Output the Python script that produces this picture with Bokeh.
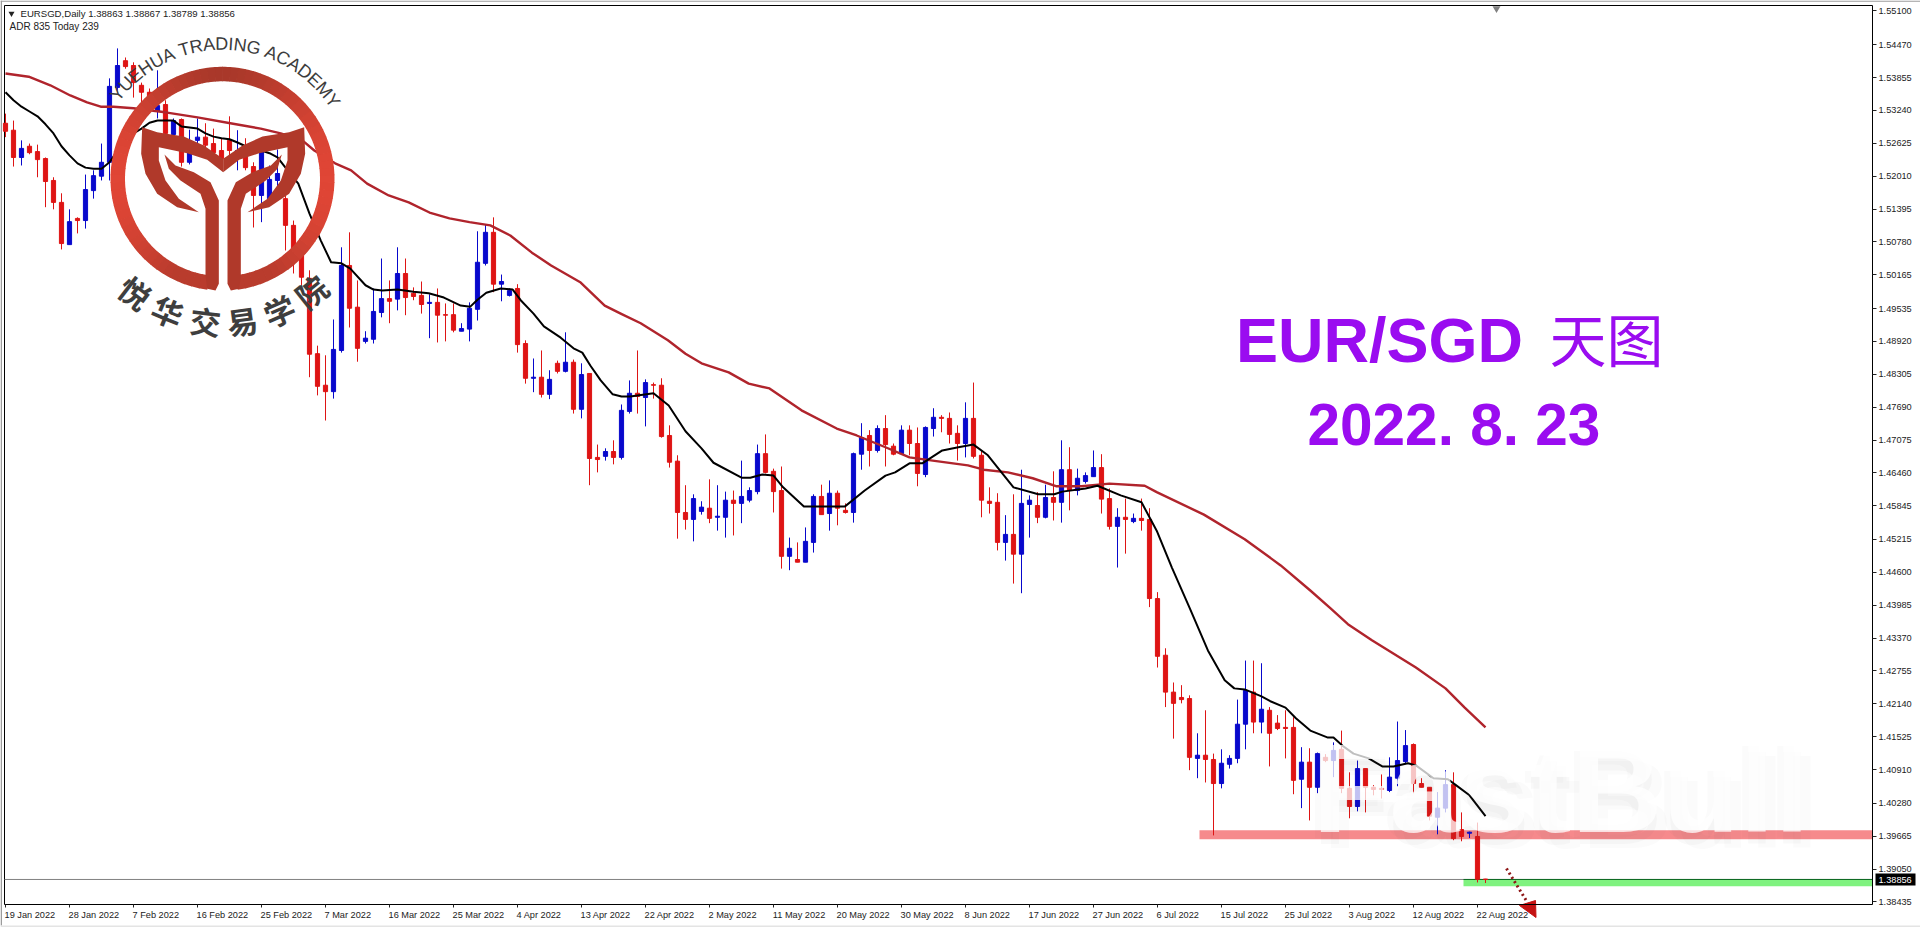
import numpy as np
from bokeh.plotting import figure
from bokeh.embed import file_html
from bokeh.resources import INLINE
from bokeh.core.properties import value
from bokeh.models import Range1d, FixedTicker

# ---------------- data ----------------
highs = [1.5318,1.5305,1.5268,1.5262,1.5260,1.5236,1.5199,1.5169,1.5139,1.5124,1.5204,1.5212,1.5262,1.5384,1.5440,1.5423,1.5414,1.5376,1.5365,1.5399,
1.5343,1.5309,1.5309,1.5288,1.5309,1.5300,1.5290,1.5272,1.5313,1.5287,1.5272,1.5227,1.5253,1.5221,1.5251,1.5184,1.5118,1.5071,1.5025,1.4884,
1.4866,1.4933,1.5068,1.5096,1.5006,1.4911,1.4991,1.5047,1.5006,1.5068,1.5047,1.4993,1.5004,1.4980,1.4991,1.4963,1.4963,1.4926,1.4965,1.5098,
1.5111,1.5124,1.5017,1.4991,1.4999,1.4894,1.4860,1.4875,1.4838,1.4856,1.4909,1.4858,1.4851,1.4832,1.4699,1.4692,1.4707,1.4774,1.4819,1.4875,
1.4821,1.4815,1.4823,1.4735,1.4679,1.4623,1.4606,1.4593,1.4634,1.4623,1.4611,1.4613,1.4669,1.4619,1.4699,1.4718,1.4654,1.4658,1.4525,1.4516,
1.4544,1.4606,1.4624,1.4632,1.4613,1.4589,1.4684,1.4739,1.4726,1.4735,1.4754,1.4701,1.4735,1.4735,1.4731,1.4733,1.4767,1.4754,1.4759,1.4735,
1.4778,1.4815,1.4688,1.4619,1.4608,1.4567,1.4606,1.4652,1.4604,1.4610,1.4624,1.4649,1.4707,1.4694,1.4654,1.4647,1.4688,1.4681,1.4617,1.4580,
1.4598,1.4570,1.4598,1.4580,1.4423,1.4318,1.4254,1.4249,1.4230,1.4159,1.4202,1.4121,1.4129,1.4118,1.4222,1.4295,1.4295,1.4290,1.4208,1.4193,
1.4202,1.4189,1.4133,1.4131,1.4123,1.4120,1.4142,1.4164,1.4086,1.4108,1.4093,1.4062,1.4082,1.4114,1.4181,1.4165,1.4140,1.4075,1.4058,1.4049,
1.4090,1.4086,1.4011,1.3975,1.3992,1.38867]
body_high = [1.5300,1.5287,1.5253,1.5257,1.5247,1.5234,1.5193,1.5152,1.5116,1.5122,1.5176,1.5202,1.5227,1.5369,1.5408,1.5417,1.5408,1.5371,1.5358,1.5333,
1.5335,1.5305,1.5307,1.5247,1.5274,1.5274,1.5262,1.5249,1.5268,1.5249,1.5240,1.5219,1.5249,1.5195,1.5206,1.5159,1.5109,1.5058,1.5010,1.4869,
1.4810,1.4877,1.5034,1.5034,1.4956,1.4898,1.4948,1.4972,1.4972,1.5019,1.5019,1.4982,1.4978,1.4965,1.4965,1.4942,1.4942,1.4916,1.4954,1.5040,
1.5096,1.5096,1.5004,1.4987,1.4991,1.4888,1.4825,1.4825,1.4821,1.4851,1.4853,1.4853,1.4830,1.4832,1.4675,1.4686,1.4686,1.4763,1.4795,1.4795,
1.4815,1.4811,1.4810,1.4716,1.4668,1.4572,1.4598,1.4582,1.4580,1.4565,1.4595,1.4595,1.4602,1.4613,1.4682,1.4682,1.4649,1.4613,1.4505,1.4484,
1.4518,1.4602,1.4602,1.4608,1.4608,1.4576,1.4682,1.4712,1.4716,1.4729,1.4729,1.4696,1.4726,1.4726,1.4701,1.4731,1.4750,1.4750,1.4748,1.4720,
1.4748,1.4748,1.4679,1.4593,1.4591,1.4531,1.4531,1.4589,1.4595,1.4585,1.4600,1.4600,1.4652,1.4652,1.4636,1.4641,1.4656,1.4656,1.4598,1.4563,
1.4563,1.4561,1.4561,1.4559,1.4411,1.4305,1.4236,1.4226,1.4224,1.4118,1.4118,1.4110,1.4103,1.4112,1.4176,1.4239,1.4236,1.4204,1.4202,1.4178,
1.4170,1.4170,1.4105,1.4105,1.4121,1.4114,1.4127,1.4129,1.4056,1.4093,1.4093,1.4058,1.4056,1.4077,1.4108,1.4136,1.4138,1.4065,1.4058,1.4019,
1.4063,1.4063,1.3979,1.3974,1.3966,1.38863]
body_low = [1.5285,1.5236,1.5236,1.5245,1.5232,1.5191,1.5152,1.5075,1.5073,1.5118,1.5118,1.5174,1.5201,1.5227,1.5367,1.5406,1.5376,1.5358,1.5337,1.5322,
1.5281,1.5279,1.5227,1.5227,1.5268,1.5259,1.5245,1.5234,1.5249,1.5234,1.5217,1.5165,1.5165,1.5159,1.5193,1.5109,1.5062,1.5012,1.4868,1.4808,
1.4798,1.4798,1.4875,1.4954,1.4879,1.4892,1.4896,1.4946,1.4967,1.4971,1.4974,1.4976,1.4961,1.4963,1.4941,1.4941,1.4913,1.4911,1.4915,1.4952,
1.5038,1.4999,1.4999,1.4978,1.4886,1.4823,1.4823,1.4793,1.4793,1.4836,1.4836,1.4765,1.4765,1.4673,1.4671,1.4677,1.4675,1.4675,1.4761,1.4789,
1.4787,1.4810,1.4714,1.4666,1.4572,1.4559,1.4559,1.4574,1.4561,1.4563,1.4563,1.4589,1.4589,1.4595,1.4611,1.4647,1.4611,1.4490,1.4490,1.4479,
1.4479,1.4516,1.4568,1.4570,1.4580,1.4572,1.4572,1.4681,1.4688,1.4688,1.4699,1.4681,1.4682,1.4701,1.4645,1.4643,1.4729,1.4748,1.4718,1.4701,
1.4701,1.4677,1.4595,1.4589,1.4516,1.4516,1.4494,1.4494,1.4587,1.4563,1.4563,1.4591,1.4591,1.4613,1.4613,1.4630,1.4639,1.4597,1.4546,1.4546,
1.4559,1.4555,1.4557,1.4411,1.4303,1.4236,1.4215,1.4222,1.4114,1.4112,1.4110,1.4065,1.4065,1.4101,1.4112,1.4176,1.4180,1.4180,1.4159,1.4168,
1.4168,1.4071,1.4073,1.4058,1.4058,1.4108,1.4108,1.4056,1.4022,1.4022,1.4058,1.4054,1.4054,1.4052,1.4075,1.4106,1.4065,1.4058,1.4004,1.4002,
1.4019,1.3962,1.3966,1.3972,1.3886,1.38856]
lows = [1.5274,1.5219,1.5221,1.5242,1.5199,1.5143,1.5139,1.5064,1.5073,1.5094,1.5103,1.5159,1.5193,1.5193,1.5361,1.5402,1.5348,1.5339,1.5320,1.5309,
1.5277,1.5274,1.5219,1.5223,1.5240,1.5236,1.5230,1.5227,1.5230,1.5212,1.5212,1.5105,1.5115,1.5146,1.5161,1.5062,1.5019,1.4997,1.4825,1.4791,
1.4744,1.4785,1.4871,1.4918,1.4854,1.4888,1.4888,1.4937,1.4926,1.4950,1.4941,1.4969,1.4944,1.4898,1.4890,1.4892,1.4909,1.4911,1.4892,1.4931,
1.5034,1.4984,1.4967,1.4976,1.4871,1.4813,1.4797,1.4787,1.4784,1.4832,1.4834,1.4757,1.4748,1.4623,1.4647,1.4669,1.4662,1.4671,1.4757,1.4757,
1.4733,1.4785,1.4712,1.4656,1.4523,1.4540,1.4518,1.4568,1.4552,1.4538,1.4525,1.4529,1.4552,1.4591,1.4606,1.4645,1.4572,1.4467,1.4464,1.4479,
1.4479,1.4497,1.4568,1.4538,1.4548,1.4570,1.4553,1.4652,1.4658,1.4684,1.4658,1.4679,1.4681,1.4679,1.4621,1.4638,1.4714,1.4722,1.4701,1.4669,
1.4675,1.4673,1.4563,1.4570,1.4501,1.4482,1.4439,1.4421,1.4525,1.4552,1.4561,1.4557,1.4553,1.4576,1.4604,1.4626,1.4639,1.4570,1.4540,1.4469,
1.4495,1.4552,1.4538,1.4395,1.4282,1.4208,1.4149,1.4215,1.4090,1.4075,1.4067,1.3968,1.4056,1.4093,1.4103,1.4129,1.4159,1.4159,1.4097,1.4165,
1.4112,1.4045,1.4019,1.3996,1.4047,1.4105,1.4077,1.4047,1.4000,1.4013,1.4011,1.4043,1.4037,1.4049,1.4060,1.4103,1.4047,1.4058,1.3996,1.3970,
1.4011,1.3959,1.3957,1.3963,1.3880,1.38789]
bull_bars = [2,8,10,11,12,13,14,19,21,23,24,29,32,33,34,41,42,45,46,47,49,53,57,58,59,60,62,63,66,68,70,72,75,77,78,80,86,87,89,90,92,93,94,
98,100,101,103,106,107,109,112,115,116,120,125,127,128,130,132,134,135,136,139,141,149,152,153,154,155,157,162,164,166,169,173,174,175,179,180,183]

fast_idx = [0,1,2,3,4,5,6,7,8,9,10,11,12,13,14,15,16,17,18,19,20,21,22,23,24,25,26,27,28,29,30,31,32,33,34,35,36.6,38,39.4,40.7,42,43.1,45,46,47.1,49,51,52.9,54.8,56.9,58.1,59,60.1,61.9,63.4,64.4,66,67.3,69.4,71,72.1,73.1,74.4,75.9,77,78.1,81,82.9,85,87,88.5,92,93.1,94.6,96,97.2,99.8,104.9,107.4,110,111.2,113,114.6,117.1,119.1,121,122.8,124.5,126,129.1,131.1,132.1,135,136.5,139.4,142,143.9,145.8,148,150.3,152.4,153.6,154.9,157,158.1,160,161.3,163.1,165.3,166,167.1,168.5,170.4,172.1,173.5,175.3,176.3,178.5,180.3,181.3,183,185]
fast_ma = [1.5358,1.5343,1.5331,1.5322,1.5313,1.5298,1.5281,1.5257,1.5240,1.5225,1.5217,1.5215,1.5215,1.5227,1.5249,1.5268,1.5281,1.5290,1.5301,1.5305,1.5305,1.5305,1.5294,1.5292,1.5290,1.5281,1.5275,1.5272,1.5270,1.5264,1.5257,1.5249,1.5249,1.5244,1.5236,1.5217,1.5187,1.5131,1.5081,1.5040,1.5038,1.5028,1.4997,1.4989,1.4987,1.4989,1.4985,1.4982,1.4974,1.4959,1.4957,1.4970,1.4983,1.4991,1.4989,1.4969,1.4944,1.4920,1.4899,1.4879,1.4871,1.4847,1.4819,1.4793,1.4789,1.4789,1.4795,1.4772,1.4724,1.4692,1.4665,1.4637,1.4637,1.4643,1.4641,1.4619,1.4583,1.4583,1.4613,1.4641,1.4647,1.4664,1.4664,1.4688,1.4694,1.4699,1.4679,1.4647,1.4619,1.4606,1.4606,1.4611,1.4617,1.4622,1.4604,1.4591,1.4538,1.4469,1.4394,1.4314,1.4258,1.4243,1.4241,1.4228,1.4219,1.4207,1.4187,1.4164,1.4151,1.4151,1.4136,1.4121,1.4112,1.4097,1.4097,1.4103,1.4099,1.4075,1.4073,1.4062,1.4043,1.4004]
slow_idx = [0,2.9,5.6,8.1,10.2,11.9,13.5,16,20.2,24,28.1,31.9,34.4,37.1,38.6,41.2,43.2,45.2,47.9,50.4,53,55.5,58,60.6,63.1,65.8,68.2,71.9,74.9,76.9,79.4,82.8,85,87,90.4,92.9,95.5,99.5,103.9,106.4,110,113,115.9,120.3,122.3,125.3,128.4,131.4,134.5,138,142.4,143.9,149.8,154.9,159.4,163.1,165.6,167.8,170.8,176.3,180,182.4,185]
slow_ma = [1.5393,1.5387,1.5371,1.5352,1.5339,1.5331,1.5331,1.5328,1.5320,1.5311,1.5300,1.5290,1.5281,1.5268,1.5249,1.5225,1.5212,1.5187,1.5165,1.5152,1.5133,1.5122,1.5115,1.5109,1.5090,1.5058,1.5034,1.5002,1.4959,1.4944,1.4926,1.4894,1.4869,1.4851,1.4834,1.4813,1.4804,1.4763,1.4729,1.4716,1.4694,1.4675,1.4669,1.4660,1.4652,1.4647,1.4636,1.4621,1.4621,1.4626,1.4622,1.4610,1.4568,1.4522,1.4473,1.4426,1.4393,1.4363,1.4333,1.4282,1.4243,1.4207,1.4170]

date_labels = ["19 Jan 2022","28 Jan 2022","7 Feb 2022","16 Feb 2022","25 Feb 2022","7 Mar 2022","16 Mar 2022","25 Mar 2022","4 Apr 2022","13 Apr 2022","22 Apr 2022","2 May 2022","11 May 2022","20 May 2022","30 May 2022","8 Jun 2022","17 Jun 2022","27 Jun 2022","6 Jul 2022","15 Jul 2022","25 Jul 2022","3 Aug 2022","12 Aug 2022","22 Aug 2022"]
price_ticks = [1.55100,1.54470,1.53855,1.53240,1.52625,1.52010,1.51395,1.50780,1.50165,1.49535,1.48920,1.48305,1.47690,1.47075,1.46460,1.45845,1.45215,1.44600,1.43985,1.43370,1.42755,1.42140,1.41525,1.40910,1.40280,1.39665,1.39050,1.38435]
last_price = 1.38856
resistance_band = (1.39610, 1.39775)
support_band = (1.38730, 1.38856)

RED, BLUE = "#DE1414", "#0808CC"
LABEL_PX = 9.2

# helpers: place decoration by position in the reference picture
def bx(px): return (np.asarray(px, dtype=float) - 5.0) / 8.0
def py(y):  return 1.55296 - 0.00018704 * np.asarray(y, dtype=float)
def fx(px): return float(bx(px))
def fy(y):  return float(py(y))

p = figure(width=1920, height=927, output_backend="svg", toolbar_location=None,
           x_range=Range1d(fx(0), fx(1920)), y_range=Range1d(fy(927), fy(0)),
           y_axis_location="right", min_border_left=0, min_border_right=0,
           min_border_top=0, min_border_bottom=0, background_fill_color="white",
           border_fill_color="white")
p.grid.visible = False
p.outline_line_color = None

# date labels start at their tick, so each is placed half its width right of it
char_w = {" ":.278,"0":.556,"1":.556,"2":.556,"3":.556,"4":.556,"5":.556,"6":.556,"7":.556,"8":.556,"9":.556,
          "J":.5,"a":.556,"n":.556,"F":.611,"e":.556,"b":.556,"M":.833,"r":.333,"A":.667,"p":.556,"y":.5,"u":.556,"l":.222,"g":.556}
date_ticks = [i * 8 for i in range(len(date_labels))]
label_pos = [round(t + (sum(char_w[c] for c in s) * LABEL_PX / 2 - 1) / 8, 3) for t, s in zip(date_ticks, date_labels)]

xa, ya = p.xaxis[0], p.yaxis[0]
xa.fixed_location = fy(904)
xa.bounds = (fx(4), fx(1872))
ya.fixed_location = fx(1872)
ya.bounds = (fy(904), fy(5))
xa.ticker = FixedTicker(ticks=label_pos, minor_ticks=date_ticks)
xa.major_label_overrides = {v: s for v, s in zip(label_pos, date_labels)}
xa.major_tick_line_color = None
xa.major_tick_out = 3
xa.major_tick_in = 0
xa.minor_tick_in = 0
xa.minor_tick_out = 3
xa.minor_tick_line_color = "#222222"
ya.ticker = FixedTicker(ticks=price_ticks)
ya.major_label_overrides = {v: f"{v:.5f}" for v in price_ticks}
ya.major_tick_in = 0
ya.major_tick_out = 4
ya.minor_tick_line_color = None
ya.major_tick_line_color = "#222222"
for a in (xa, ya):
    a.axis_line_color = "black"
    a.major_label_text_font = "Liberation Sans"
    a.major_label_text_font_size = f"{LABEL_PX}px"
    a.major_label_text_color = "#222222"
    a.major_label_standoff = 2

# window edges and the chart's top and left border
p.quad(left=[fx(0)], right=[fx(1920)], bottom=[fy(1.3)], top=[fy(0)], fill_color="#9C9C9C", line_color=None)
p.quad(left=[fx(0)], right=[fx(1.5)], bottom=[fy(925)], top=[fy(0)], fill_color="#9C9C9C", line_color=None)
p.quad(left=[fx(0)], right=[fx(1920)], bottom=[fy(927)], top=[fy(925)], fill_color="#E4E4E4", line_color=None)
p.segment(x0=[fx(4)], x1=[fx(1872)], y0=[fy(5)], y1=[fy(5)], line_color="black", line_width=1)
p.segment(x0=[fx(4)], x1=[fx(4)], y0=[fy(5)], y1=[fy(904)], line_color="black", line_width=1)

# bands
n = len(highs)
p.quad(left=[fx(1199)], right=[fx(1872)], bottom=[resistance_band[0]], top=[resistance_band[1]],
       fill_color="#F68A8C", line_color=None)
p.quad(left=[fx(1463)], right=[fx(1872)], bottom=[support_band[0]], top=[support_band[1]],
       fill_color="#7FF27F", line_color=None)

# last price line
p.segment(x0=[fx(4)], x1=[fx(1872)], y0=[last_price], y1=[last_price], line_color="#808080", line_width=1)
p.segment(x0=[fx(1463)], x1=[fx(1872)], y0=[last_price], y1=[last_price], line_color="#0A6A20", line_width=1)

# candles
idx = np.arange(n)
colors = [BLUE if i in bull_bars else RED for i in range(n)]
p.segment(x0=idx, x1=idx, y0=lows, y1=highs, line_color=colors, line_width=1)
p.vbar(x=idx, width=0.52, bottom=body_low, top=body_high, fill_color=colors, line_color=colors, line_width=1)

# moving averages
p.line(slow_idx, slow_ma, line_color="#B0242C", line_width=2.4, line_join="round")
p.line(fast_idx, fast_ma, line_color="#000000", line_width=2, line_join="round")

# FastBull watermark with a soft shadow
for dx, dy, al in ((10, 16, 0.025), (0, 12, 0.04), (-6, 6, 0.025)):
    p.text(x=[fx(1312 + dx)], y=[fy(788 + dy)], text=["FastBull"], text_font=value("Liberation Sans"), text_font_style="bold",
           text_font_size="126px", text_color="#606060", text_alpha=al, text_baseline="middle")
p.text(x=[fx(1312)], y=[fy(788)], text=["FastBull"], text_font=value("Liberation Sans"), text_font_style="bold",
       text_font_size="126px", text_color="#FFFFFF", text_alpha=0.75, text_baseline="middle")

# academy logo (drawn from its position in the picture)
cx, cy, R0, R1 = 222.0, 178.3, 112.0, 97.5
dark, bright = np.array([0xA9, 0x38, 0x2A]), np.array([0xE0, 0x46, 0x36])
edges = np.linspace(8, 352, 87)
for a0, a1 in zip(edges[:-1], edges[1:]):
    a0r, a1r = np.radians(a0 - 0.2), np.radians(a1 + 0.2)
    mid = np.radians((a0 + a1) / 2)
    f = abs(np.sin(mid)) if np.cos(mid) < 0 else max(abs(np.sin(mid)), 0.45)
    c = dark + (bright - dark) * f ** 1.5
    ts = np.linspace(a0r, a1r, 4)
    xs = np.r_[cx + R0 * np.sin(ts), cx + R1 * np.sin(ts[::-1])]
    ys = np.r_[cy + R0 * np.cos(ts), cy + R1 * np.cos(ts[::-1])]
    p.patch(bx(xs), py(ys), fill_color="#%02X%02X%02X" % tuple(int(v) for v in c), line_color=None)

horn = [(155,290),(200,305),(280,318),(340,345),(398,385),(398,425),(350,388),(290,368),(205,350),(205,390),(225,450),(265,505),(325,545),(260,530),(200,490),(165,430),(152,370)]
stem = [(222,372),(255,405),(310,425),(360,455),(385,510),(385,760),(375,780),(350,775),(345,735),(345,535),(330,490),(270,450),(235,415)]
for shape in (horn, stem):
    zx = np.array([s[0] for s in shape], dtype=float)
    zy = np.array([s[1] for s in shape], dtype=float)
    for mx in (zx, 796 - zx):
        p.patch(bx(90 + mx / 3), py(30 + zy / 3), fill_color="#B0392A", line_color=None)

# curved texts
arc_text = "YUEHUA TRADING ACADEMY"
widths = dict(zip("YUEHA TRDINGCM", [.667,.722,.667,.722,.667,.278,.611,.722,.722,.278,.722,.778,.722,.833]))
adv = np.array([widths[c] for c in arc_text])
pos = np.cumsum(adv) - adv / 2
theta = np.radians(-51 + (pos - pos[0]) / (pos[-1] - pos[0]) * 105.7)
p.text(x=bx(cx + 135 * np.sin(theta)), y=py(cy - 135 * np.cos(theta)), text=list(arc_text), angle=-theta,
       text_font=value("Liberation Sans"), text_font_size="18px", text_color="#3C3C3C",
       text_align="center", text_baseline="middle")
cn_text = list("悦华交易学院")
cn_theta = np.radians([-37.5, -22.4, -6.8, 7.9, 23.3, 38.3])
p.text(x=bx(cx + 143 * np.sin(cn_theta)), y=py(cy + 143 * np.cos(cn_theta)), text=cn_text, angle=cn_theta,
       text_font=value("Noto Sans CJK SC"), text_font_style="bold", text_font_size="31px", text_color="#3E3E3E",
       text_align="center", text_baseline="middle")

# title
PURPLE = "#9A0CF0"
p.text(x=[fx(1235.5)], y=[fy(339)], text=["EUR/SGD"], text_font=value("Liberation Sans"), text_font_style="bold",
       text_font_size="63px", text_color=PURPLE, text_baseline="middle")
p.text(x=[fx(1549)], y=[fy(336)], text=["天图"], text_font=value("Noto Sans CJK SC"),
       text_font_size="57px", text_color=PURPLE, text_baseline="middle")
p.text(x=[fx(1307)], y=[fy(423.5)], text=["2022. 8. 23"], text_font=value("Liberation Sans"), text_font_style="bold",
       text_font_size="58.5px", text_color=PURPLE, text_baseline="middle")

# chart header
p.scatter(x=[fx(11)], y=[fy(13)], marker="inverted_triangle", size=6, fill_color="#222222", line_color=None)
p.text(x=[fx(20)], y=[fy(12.5)], text=["EURSGD,Daily  1.38863 1.38867 1.38789 1.38856"],
       text_font=value("Liberation Sans"), text_font_size="9.6px", text_color="#222222", text_baseline="middle")
p.text(x=[fx(9)], y=[fy(26)], text=["ADR 835  Today 239"],
       text_font=value("Liberation Sans"), text_font_size="10px", text_color="#222222", text_baseline="middle")
p.scatter(x=[fx(1496)], y=[fy(8)], marker="inverted_triangle", size=8, fill_color="#808080", line_color=None)

# dotted arrow running past the bottom of the chart
p.segment(x0=[fx(1506)], y0=[fy(868)], x1=[fx(1527)], y1=[fy(902)],
          line_color="#8E1616", line_width=3, line_dash="2 3")
p.patch([fx(v) for v in (1519, 1535, 1535.5)], [fy(v) for v in (905, 900, 917)], fill_color="#C41212", line_color="#C41212")

# last price tag
p.quad(left=[fx(1875)], right=[fx(1915)], bottom=[fy(885)], top=[fy(873)], fill_color="black", line_color=None)
p.text(x=[fx(1878)], y=[fy(879)], text=[f"{last_price:.5f}"], text_font=value("Liberation Sans"),
       text_font_size="9.2px", text_color="white", text_baseline="middle")

open("out.html", "w").write(file_html(p, INLINE))
